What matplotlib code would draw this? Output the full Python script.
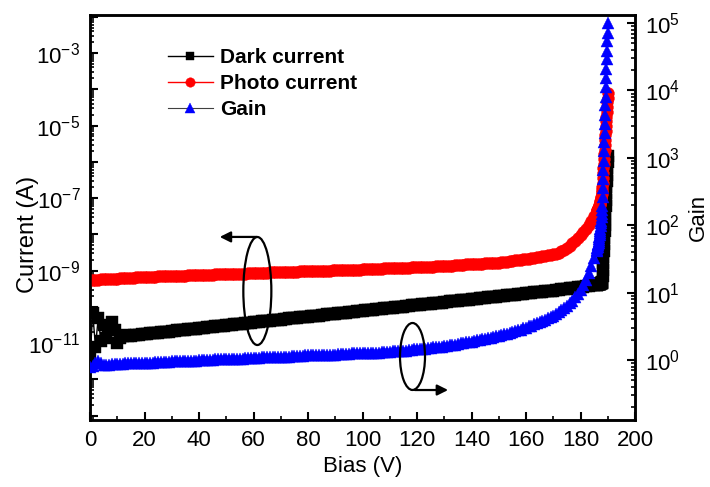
import numpy as np
import matplotlib
matplotlib.use('Agg')
import matplotlib.pyplot as plt
from matplotlib.patches import Ellipse
from matplotlib.ticker import FixedLocator, FuncFormatter, LogLocator, NullFormatter, MultipleLocator

plt.rcParams['font.family'] = ['Liberation Sans', 'DejaVu Sans']
plt.rcParams['mathtext.fontset'] = 'custom'
plt.rcParams['mathtext.rm'] = 'Liberation Sans'
plt.rcParams['mathtext.it'] = 'Liberation Sans:italic'
plt.rcParams['mathtext.bf'] = 'Liberation Sans:bold'

# ---- data (bias in V, currents / gain stored as log10 values) ----
bias_main = np.arange(0, 186, 1.0)                       # 0 ... 185 V
bias_steep = np.round(np.arange(186.0, 190.01, 0.1), 1)   # 186.0 ... 190.0 V
bias = np.concatenate([bias_main, bias_steep])

dark_log = [
    -11.39, -10.17, -11.11, -10.30, -10.95, -10.50, -10.85, -10.64, -10.42, -10.64,
    -11.00, -10.86, -10.80, -10.78, -10.81, -10.79, -10.78, -10.77, -10.77, -10.76,
    -10.75, -10.74, -10.73, -10.73, -10.72, -10.71, -10.70, -10.69, -10.69, -10.68,
    -10.67, -10.66, -10.65, -10.65, -10.64, -10.63, -10.62, -10.61, -10.61, -10.60,
    -10.59, -10.58, -10.57, -10.56, -10.56, -10.55, -10.54, -10.53, -10.52, -10.52,
    -10.51, -10.50, -10.49, -10.48, -10.48, -10.47, -10.46, -10.45, -10.44, -10.44,
    -10.43, -10.42, -10.41, -10.40, -10.40, -10.39, -10.38, -10.37, -10.36, -10.36,
    -10.35, -10.34, -10.33, -10.32, -10.32, -10.31, -10.30, -10.29, -10.28, -10.28,
    -10.27, -10.26, -10.25, -10.24, -10.24, -10.23, -10.22, -10.21, -10.20, -10.20,
    -10.19, -10.18, -10.17, -10.16, -10.16, -10.15, -10.14, -10.13, -10.12, -10.12,
    -10.11, -10.10, -10.09, -10.08, -10.08, -10.07, -10.06, -10.05, -10.04, -10.04,
    -10.03, -10.02, -10.01, -10.00, -10.00, -9.99, -9.98, -9.97, -9.96, -9.96,
    -9.95, -9.94, -9.93, -9.92, -9.92, -9.91, -9.90, -9.89, -9.88, -9.88,
    -9.87, -9.86, -9.85, -9.84, -9.84, -9.83, -9.82, -9.81, -9.80, -9.80,
    -9.79, -9.78, -9.77, -9.76, -9.76, -9.75, -9.74, -9.73, -9.72, -9.72,
    -9.71, -9.70, -9.69, -9.68, -9.68, -9.67, -9.66, -9.65, -9.64, -9.64,
    -9.63, -9.62, -9.61, -9.60, -9.60, -9.59, -9.58, -9.57, -9.56, -9.55,
    -9.55, -9.54, -9.53, -9.52, -9.51, -9.50, -9.49, -9.48, -9.47, -9.46,
    -9.45, -9.44, -9.43, -9.42, -9.41, -9.40,
    # 186.0 - 190.0 V (0.1 V steps)
    -9.39, -9.39, -9.39, -9.38, -9.38, -9.38, -9.38, -9.37, -9.37, -9.37,
    -9.37, -9.36, -9.36, -9.36, -9.35, -9.35, -9.34, -9.34, -9.33, -9.33,
    -9.32, -9.15, -8.97, -8.80, -8.62, -8.45, -8.27, -8.10, -7.92, -7.75,
    -7.57, -7.40, -7.22, -7.05, -6.87, -6.70, -6.52, -6.35, -6.17, -6.00,
    -5.85,
]

photo_log = [
    -9.26, -9.26, -9.25, -9.25, -9.24, -9.24, -9.23, -9.23, -9.22, -9.22,
    -9.22, -9.21, -9.21, -9.21, -9.20, -9.20, -9.20, -9.19, -9.19, -9.18,
    -9.18, -9.18, -9.17, -9.17, -9.17, -9.16, -9.16, -9.16, -9.15, -9.15,
    -9.15, -9.15, -9.14, -9.14, -9.14, -9.14, -9.13, -9.13, -9.13, -9.12,
    -9.12, -9.12, -9.12, -9.11, -9.11, -9.11, -9.10, -9.10, -9.10, -9.10,
    -9.09, -9.09, -9.09, -9.09, -9.08, -9.08, -9.08, -9.08, -9.07, -9.07,
    -9.07, -9.07, -9.06, -9.06, -9.06, -9.06, -9.05, -9.05, -9.05, -9.04,
    -9.04, -9.04, -9.04, -9.03, -9.03, -9.03, -9.03, -9.02, -9.02, -9.02,
    -9.02, -9.01, -9.01, -9.01, -9.01, -9.00, -9.00, -9.00, -9.00, -8.99,
    -8.99, -8.99, -8.99, -8.98, -8.98, -8.98, -8.97, -8.97, -8.97, -8.97,
    -8.96, -8.96, -8.96, -8.96, -8.95, -8.95, -8.95, -8.95, -8.94, -8.94,
    -8.94, -8.94, -8.93, -8.93, -8.93, -8.92, -8.92, -8.92, -8.91, -8.91,
    -8.91, -8.90, -8.90, -8.90, -8.89, -8.89, -8.89, -8.88, -8.88, -8.87,
    -8.87, -8.87, -8.86, -8.86, -8.85, -8.85, -8.84, -8.84, -8.83, -8.83,
    -8.83, -8.82, -8.82, -8.81, -8.81, -8.80, -8.80, -8.79, -8.79, -8.78,
    -8.78, -8.77, -8.76, -8.75, -8.74, -8.73, -8.72, -8.71, -8.70, -8.69,
    -8.68, -8.67, -8.66, -8.65, -8.63, -8.62, -8.61, -8.59, -8.58, -8.56,
    -8.55, -8.53, -8.51, -8.47, -8.43, -8.38, -8.32, -8.25, -8.18, -8.10,
    -8.02, -7.94, -7.85, -7.75, -7.63, -7.50,
    # 186.0 - 190.0 V (0.1 V steps)
    -7.36, -7.34, -7.33, -7.31, -7.29, -7.28, -7.26, -7.24, -7.22, -7.20,
    -7.18, -7.15, -7.12, -7.09, -7.05, -7.01, -6.96, -6.90, -6.84, -6.77,
    -6.70, -6.57, -6.44, -6.31, -6.18, -6.05, -5.92, -5.79, -5.66, -5.53,
    -5.40, -5.27, -5.14, -5.01, -4.88, -4.75, -4.62, -4.49, -4.36, -4.23,
    -4.10,
]

gain_log = [
    -0.10, -0.09, -0.05, -0.01, -0.05, -0.07, -0.07, -0.07, -0.06, -0.06,
    -0.06, -0.06, -0.06, -0.05, -0.05, -0.05, -0.05, -0.05, -0.04, -0.04,
    -0.04, -0.04, -0.04, -0.04, -0.03, -0.03, -0.03, -0.03, -0.03, -0.03,
    -0.02, -0.02, -0.02, -0.02, -0.02, -0.01, -0.01, -0.01, -0.01, -0.01,
    0.00, 0.00, 0.00, 0.00, 0.00, 0.00, 0.01, 0.01, 0.01, 0.01,
    0.01, 0.01, 0.02, 0.02, 0.02, 0.02, 0.02, 0.03, 0.03, 0.03,
    0.03, 0.03, 0.03, 0.04, 0.04, 0.04, 0.04, 0.04, 0.05, 0.05,
    0.05, 0.05, 0.05, 0.05, 0.06, 0.06, 0.06, 0.06, 0.06, 0.07,
    0.07, 0.07, 0.07, 0.07, 0.07, 0.08, 0.08, 0.08, 0.08, 0.08,
    0.08, 0.09, 0.09, 0.09, 0.09, 0.09, 0.10, 0.10, 0.10, 0.10,
    0.10, 0.10, 0.11, 0.11, 0.11, 0.11, 0.11, 0.12, 0.12, 0.12,
    0.12, 0.13, 0.13, 0.13, 0.14, 0.14, 0.14, 0.15, 0.15, 0.16,
    0.16, 0.16, 0.17, 0.17, 0.18, 0.18, 0.19, 0.19, 0.20, 0.20,
    0.21, 0.21, 0.22, 0.23, 0.23, 0.24, 0.25, 0.25, 0.26, 0.27,
    0.27, 0.28, 0.29, 0.30, 0.31, 0.31, 0.32, 0.33, 0.34, 0.35,
    0.36, 0.37, 0.38, 0.39, 0.40, 0.41, 0.43, 0.44, 0.45, 0.47,
    0.48, 0.50, 0.51, 0.53, 0.55, 0.57, 0.58, 0.60, 0.62, 0.64,
    0.66, 0.68, 0.71, 0.74, 0.77, 0.80, 0.84, 0.88, 0.93, 0.98,
    1.04, 1.11, 1.19, 1.29, 1.40, 1.52,
    # 186.0 - 190.0 V (0.1 V steps)
    1.62, 1.64, 1.66, 1.68, 1.70, 1.72, 1.74, 1.77, 1.80, 1.83,
    1.86, 1.89, 1.92, 1.95, 1.99, 2.03, 2.07, 2.12, 2.17, 2.22,
    2.28, 2.42, 2.55, 2.69, 2.82, 2.96, 3.10, 3.23, 3.37, 3.50,
    3.64, 3.78, 3.91, 4.05, 4.18, 4.32, 4.46, 4.59, 4.73, 4.86,
    5.00,
]

dark_current = 10.0 ** np.array(dark_log)
photo_current = 10.0 ** np.array(photo_log)
gain = 10.0 ** np.array(gain_log)

x_ticks = [0, 20, 40, 60, 80, 100, 120, 140, 160, 180, 200]
left_labeled_exp = [-3, -5, -7, -9, -11]
right_labeled_exp = [0, 1, 2, 3, 4, 5]

# ---- figure ----
fig = plt.figure(figsize=(7.1, 4.87), dpi=100)
ax = fig.add_axes([0.1268, 0.1376, 0.7676, 0.8316])
ax2 = ax.twinx()

ms = 8
l1, = ax.plot(bias, dark_current, color='black', lw=1.0, marker='s', ms=ms,
              mfc='black', mec='black', mew=0.3, label='Dark current', zorder=3)
l2, = ax.plot(bias, photo_current, color='red', lw=1.0, marker='o', ms=ms + 0.5,
              mfc='red', mec='red', mew=0.3, label='Photo current', zorder=4)
l3, = ax2.plot(bias, gain, color='#404040', lw=0.8, marker='^', ms=ms + 0.8,
               mfc='blue', mec='blue', mew=0.3, label='Gain', zorder=5)

ax.set_xlim(0, 200)
ax.set_yscale('log')
ax.set_ylim(10 ** -13.12, 10 ** -1.95)
ax2.set_yscale('log')
ax2.set_ylim(10 ** -0.89, 10 ** 5.12)

ax.xaxis.set_major_locator(FixedLocator(x_ticks))
ax.xaxis.set_minor_locator(MultipleLocator(10))

ax.yaxis.set_major_locator(FixedLocator([10.0 ** e for e in range(-13, -1)]))
ax.yaxis.set_major_formatter(FuncFormatter(
    lambda v, p: (r'$\mathregular{10^{%d}}$' % round(np.log10(v)))
    if round(np.log10(v)) in left_labeled_exp else ''))
ax.yaxis.set_minor_locator(LogLocator(base=10, subs=np.arange(2, 10), numticks=100))
ax.yaxis.set_minor_formatter(NullFormatter())

ax2.yaxis.set_major_locator(FixedLocator([10.0 ** e for e in range(-1, 6)]))
ax2.yaxis.set_major_formatter(FuncFormatter(
    lambda v, p: (r'$\mathregular{10^{%d}}$' % round(np.log10(v)))
    if round(np.log10(v)) in right_labeled_exp else ''))
ax2.yaxis.set_minor_locator(LogLocator(base=10, subs=np.arange(2, 10), numticks=100))
ax2.yaxis.set_minor_formatter(NullFormatter())

for a in (ax, ax2):
    for s in a.spines.values():
        s.set_linewidth(1.8)
ax.tick_params(axis='both', which='both', direction='in', top=False, right=False,
               labelsize=16)
ax.tick_params(which='major', length=6, width=1.5, pad=7)
ax.tick_params(which='minor', length=3, width=1.2)
ax2.tick_params(axis='y', which='both', direction='in', left=False, right=True, labelsize=16)
ax2.tick_params(axis='y', which='major', length=6, width=1.5, pad=7)
ax2.tick_params(axis='y', which='minor', length=3, width=1.2)

ax.set_xlabel('Bias (V)', fontsize=16, labelpad=4)
ax.set_ylabel('Current (A)', fontsize=17)
ax.yaxis.set_label_coords(-0.094, 0.457)
ax2.set_ylabel('Gain', fontsize=16)
ax2.yaxis.set_label_coords(1.097, 0.5)

# ---- ellipse + arrow annotations ----
ax2.add_patch(Ellipse((0.307, 0.3185), 0.0514, 0.2667, transform=ax2.transAxes,
                      fill=False, edgecolor='black', lw=1.6, zorder=10))
ax2.annotate('', xy=(0.238, 0.452), xytext=(0.306, 0.452), xycoords='axes fraction',
             arrowprops=dict(arrowstyle='-|>', color='black', lw=1.6,
                             mutation_scale=16, shrinkA=0, shrinkB=0))
ax2.add_patch(Ellipse((0.5917, 0.1568), 0.0459, 0.1654, transform=ax2.transAxes,
                      fill=False, edgecolor='black', lw=1.6, zorder=10))
ax2.annotate('', xy=(0.657, 0.074), xytext=(0.596, 0.074), xycoords='axes fraction',
             arrowprops=dict(arrowstyle='-|>', color='black', lw=1.6,
                             mutation_scale=16, shrinkA=0, shrinkB=0))

leg = ax2.legend(handles=[l1, l2, l3], loc='upper left', bbox_to_anchor=(0.143, 0.919),
                 frameon=False, borderpad=0, borderaxespad=0, handlelength=2.16,
                 handletextpad=0.34, labelspacing=0.35, markerscale=0.8,
                 prop={'weight': 'bold', 'size': 15})

fig.savefig('out.png', dpi=100)
